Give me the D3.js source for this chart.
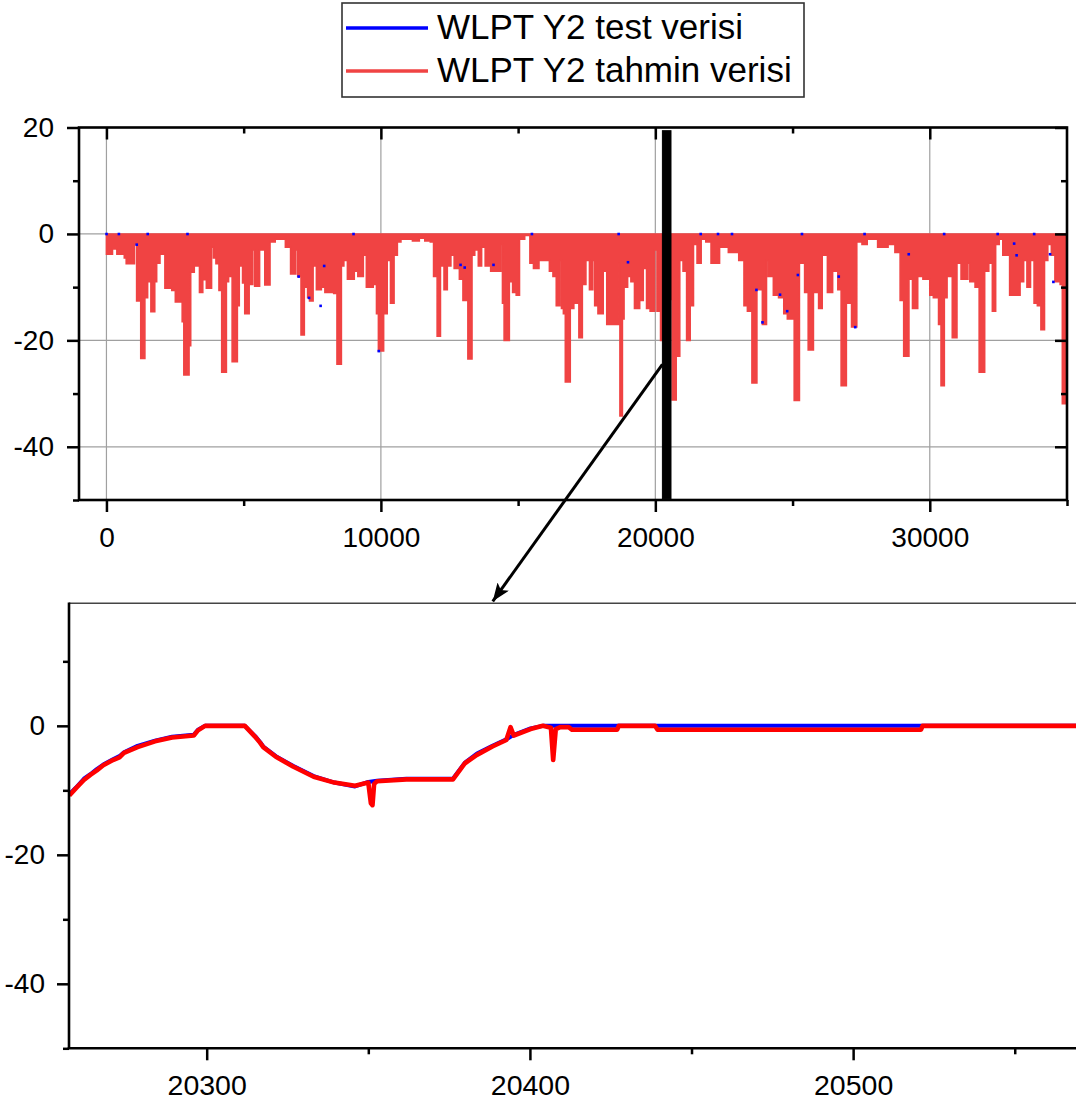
<!DOCTYPE html>
<html>
<head>
<meta charset="utf-8">
<script src="https://cdn.jsdelivr.net/npm/d3@7"></script>
<style>
  body { margin: 0; background: #fff; }
  svg { display: block; font-family: "Liberation Sans", Arial, sans-serif; }
</style>
</head>
<body>
<svg id="chart" width="1076" height="1102"></svg>
<script>
// ---- Series names ----
const seriesNames = ["WLPT Y2 test verisi", "WLPT Y2 tahmin verisi"];

// ---- Overview: lowest value reached by the prediction series in each index span ----
// (span starts at overviewStart[i] and runs to the next start)
const overviewStart = [
  0, 220, 380, 650, 720, 1020, 1100, 1250, 1400, 1500, 1620, 1760, 1830, 1950, 2130, 2380, 2510, 2760, 2820, 3010,
  3070, 3200, 3390, 3510, 3640, 3830, 3900, 3990, 4100, 4200, 4370, 4450, 4580, 4770, 4840, 4960, 5040, 5200, 5330, 5400,
  5580, 5770, 5960, 6150, 6520, 6710, 6900, 6970, 7090, 7210, 7330, 7400, 7530, 7650, 7830, 7960, 8280, 8400, 8560, 8650,
  8780, 9030, 9160, 9360, 9470, 9720, 9840, 9910, 10100, 10230, 10350, 10480, 10600, 10730, 11150, 11400, 11600, 11800, 11920, 12050,
  12170, 12300, 12420, 12550, 12670, 12860, 12990, 13170, 13320, 13420, 13550, 13670, 13800, 14000, 14370, 14430, 14490, 14680, 14800, 14930,
  15050, 15240, 15430, 15560, 15760, 16140, 16270, 16390, 16520, 16580, 16650, 16720, 16900, 17030, 17215, 17340, 17470, 17600, 17720, 17790,
  17910, 18100, 18230, 18670, 18710, 18800, 18860, 18990, 19110, 19240, 19430, 19560, 19680, 19810, 19975, 20060, 20190, 20290, 20570, 20610,
  20760, 20890, 21010, 21140, 21270, 21390, 21520, 21670, 21840, 22030, 22340, 22660, 23040, 23230, 23355, 23520, 23700, 23900, 24050, 24110,
  24300, 24490, 24680, 24810, 25060, 25250, 25440, 25570, 25760, 25950, 26080, 26270, 26460, 26650, 26770, 26960, 27150, 27340, 27530, 27720,
  28100, 28480, 28730, 28920, 29050, 29240, 29370, 29560, 29750, 30000, 30130, 30320, 30410, 30530, 30630, 30820, 30990, 31140, 31390, 31460,
  31650, 31800, 32000, 32150, 32280, 32400, 32530, 32660, 32910, 33290, 33420, 33540, 33670, 33800, 33920, 34050, 34180, 34300, 34430, 34560,
  34750, 34830
];
const overviewMin = [
  -3.8, -2.8, -3.8, -4.5, -5.6, -2.0, -12.6, -23.4, -12.0, -9.0, -14.6, -9.0, -5.5, -3.8, -10.2, -10.6, -12.8, -16.5, -26.5, -21.0,
  -7.2, -6.0, -11.0, -8.6, -10.2, -2.5, -4.5, -5.6, -10.6, -26.0, -9.0, -8.0, -24.0, -13.5, -6.0, -9.2, -15.0, -9.5, -3.0, -9.8,
  -3.0, -9.6, -1.5, -1.0, -2.5, -7.5, -3.0, -8.0, -19.0, -10.0, -12.0, -12.6, -6.0, -10.5, -10.0, -11.0, -11.2, -24.5, -6.0, -5.0,
  -8.5, -7.0, -8.0, -4.0, -10.0, -9.5, -15.0, -22.0, -15.0, -5.0, -13.0, -4.0, -1.5, -1.0, -1.3, -0.8, -1.3, -1.5, -8.0, -19.2,
  -6.0, -10.5, -6.0, -4.0, -6.5, -8.5, -12.5, -23.5, -4.0, -3.0, -6.0, -2.5, -6.0, -7.0, -2.0, -13.0, -20.0, -9.0, -11.0, -11.5,
  -1.0, -0.3, -5.5, -6.5, -5.0, -7.0, -8.0, -13.5, -5.0, -14.0, -15.0, -27.8, -14.0, -13.0, -19.5, -9.5, -5.0, -10.5, -5.0, -13.5,
  -15.0, -7.0, -17.0, -5.5, -34.2, -16.0, -10.0, -8.0, -9.0, -14.0, -12.5, -6.5, -14.0, -14.5, -3.0, -14.5, -20.0, -12.3, -5.0, -31.2,
  -23.0, -5.0, -7.0, -20.0, -13.5, -2.0, -5.5, -1.0, -1.5, -5.5, -2.5, -3.5, -5.0, -13.5, -14.5, -28.0, -10.5, -17.0, -5.0, -8.0,
  -11.5, -12.0, -15.0, -16.0, -31.3, -5.5, -11.0, -21.8, -11.0, -14.0, -4.0, -11.0, -7.0, -10.5, -28.5, -13.0, -17.5, -1.5, -2.0, -1.0,
  -2.5, -2.0, -3.5, -12.5, -23.0, -8.5, -14.0, -8.0, -8.5, -11.5, -12.0, -17.0, -28.5, -12.0, -8.0, -19.5, -5.5, -8.5, -5.5, -9.0,
  -10.0, -26.0, -7.0, -5.5, -14.5, -2.0, -1.0, -4.0, -11.5, -9.0, -5.0, -10.0, -5.0, -13.0, -13.5, -18.0, -5.0, -2.0, -4.0, -9.0,
  -9.5, -31.9
];
const overviewEnd = 35000;

// Places where the test series shows past the prediction in the overview
const testOnlyX = [0, 450, 1500, 1100, 2950, 7800, 7930, 9000, 7000, 7380, 9920, 12900, 13050, 14100, 15500,
                   18660, 19000, 21650, 22280, 22790, 23680, 23900, 24540, 24800, 25190, 25340, 26680, 27280, 27620, 29230, 30520, 32470, 33070, 33160, 33800, 34380, 34500];
const testOnlyY = [0, 0, 0, -2.0, 0, -13.5, -6.0, 0, -8.0, -12.0, -22.0, -5.8, -6.3, -5.8, 0,
                   0, -5.3, 0, 0, 0, -10.5, -16.6, -11.4, -14.5, -7.7, 0, -8.0, -17.5, 0, -3.8, 0, 0, -1.8, -4.0, 0, -3.8, -9.0];

// ---- Detail window: index range shown in the lower panel ----
const detailRange = [20257.4, 20570.5];

// Prediction series in the detail window (index, value)
const predX = [20257.5, 20259.5, 20262, 20264, 20266, 20268, 20271, 20273, 20274.4, 20278.6, 20284, 20289.3, 20296, 20297.3, 20299.5,
  20311.8, 20315, 20316.5, 20317.5, 20321.4, 20326.7, 20333.1, 20339.5, 20345.9, 20350, 20350.8, 20351.3, 20351.8, 20352.7, 20361.8,
  20376.2, 20379.9, 20383.6, 20388.4, 20392.7, 20394, 20395, 20400.2, 20404, 20406.5, 20407.2, 20408, 20409.4, 20412, 20413,
  20427, 20427.5, 20438.7, 20439.5, 20521, 20521.5, 20570.5];
const predY = [-10.8, -9.7, -8.4, -7.6, -6.9, -6.1, -5.3, -4.9, -4.2, -3.3, -2.4, -1.8, -1.5, -0.7, 0,
  0, -1.7, -2.6, -3.3, -4.8, -6.3, -7.9, -8.8, -9.3, -8.8, -12.0, -12.3, -9.0, -8.6, -8.3,
  -8.3, -5.8, -4.5, -3.2, -2.2, -0.2, -1.5, -0.5, 0, -0.3, -5.3, -0.5, -0.2, -0.2, -0.6,
  -0.6, 0, 0, -0.6, -0.6, 0, 0];

// Test series in the detail window (index, value)
const testX = [20257.5, 20259.5, 20262, 20264, 20266, 20268, 20271, 20273, 20274.4, 20278.6, 20284, 20289.3, 20296, 20297.3, 20299.5,
  20311.8, 20315, 20316.5, 20317.5, 20321.4, 20326.7, 20333.1, 20339.5, 20345.9, 20350, 20352.7, 20361.8,
  20376.2, 20379.9, 20383.6, 20388.4, 20392.7, 20395, 20400.2, 20404, 20570.5];
const testY = [-10.6, -9.6, -8.2, -7.5, -6.7, -6.0, -5.2, -4.7, -4.1, -3.1, -2.3, -1.7, -1.4, -0.6, 0,
  0, -1.6, -2.5, -3.2, -4.7, -6.2, -7.8, -8.8, -9.4, -8.7, -8.5, -8.2,
  -8.2, -5.7, -4.3, -3.1, -2.1, -1.4, -0.4, 0, 0];

// ---- Axis ticks ----
const overviewXMajor = [0, 10000, 20000, 30000];
const overviewXMinor = [5000, 15000, 25000, 35000];
const overviewYMajor = [20, 0, -20, -40];
const overviewYMinor = [10, -10, -30, -50];
const detailXMajor = [20300, 20400, 20500];
const detailXMinor = [20350, 20450, 20550];
const detailYMajor = [0, -20, -40];
const detailYMinor = [10, -10, -30, -50];

// ---- Colours ----
const testColor = "#0000ff";
const predOverviewColor = "#f04343";
const predDetailColor = "#ff0000";

const svg = d3.select("#chart");
const FONT = 28;
const plainNum = d => String(d);   // ASCII hyphen for negatives

// ---- Overview panel ----
const ov = { left: 79, right: 1067, top: 127.5, bottom: 500 };
const xs = d3.scaleLinear().domain([-1000, 35000]).range([ov.left, ov.right]);
const ys = d3.scaleLinear().domain([-50, 20]).range([ov.bottom, ov.top]);

svg.append("clipPath").attr("id", "clipOv")
  .append("rect").attr("x", ov.left).attr("y", ov.top)
  .attr("width", ov.right - ov.left).attr("height", ov.bottom - ov.top);

const gOv = svg.append("g");

// grid
gOv.append("g").selectAll("line").data(overviewXMajor).join("line")
  .attr("x1", d => xs(d)).attr("x2", d => xs(d))
  .attr("y1", ov.top).attr("y2", ov.bottom)
  .attr("stroke", "#a0a0a0").attr("stroke-width", 1.2);
gOv.append("g").selectAll("line").data(overviewYMajor).join("line")
  .attr("x1", ov.left).attr("x2", ov.right)
  .attr("y1", d => ys(d)).attr("y2", d => ys(d))
  .attr("stroke", "#a0a0a0").attr("stroke-width", 1.2);

// prediction envelope
const envPts = overviewStart.map((s, i) => ({ x: s, lo: overviewMin[i] }));
envPts.push({ x: overviewEnd, lo: overviewMin[overviewMin.length - 1] });
const envArea = d3.area()
  .x(d => xs(d.x))
  .y0(ys(0))
  .y1(d => ys(d.lo))
  .curve(d3.curveStepAfter);

const gData = gOv.append("g").attr("clip-path", "url(#clipOv)");
gData.append("path").datum(envPts)
  .attr("d", envArea)
  .attr("fill", predOverviewColor)
  .attr("stroke", predOverviewColor)
  .attr("stroke-width", 1.6)
  .attr("stroke-linejoin", "miter");

// test series peeking out
gData.append("g").selectAll("rect").data(testOnlyX.map((x, i) => ({ x, y: testOnlyY[i] }))).join("rect")
  .attr("x", d => xs(d.x) - 1.2).attr("y", d => ys(d.y) - 1.2)
  .attr("width", 2.6).attr("height", 2.6)
  .attr("fill", testColor);

// selection bar marking the detail window
gOv.append("rect")
  .attr("x", xs(detailRange[0])).attr("width", xs(detailRange[1]) - xs(detailRange[0]))
  .attr("y", ys(19.4)).attr("height", ys(-49.8) - ys(19.4))
  .attr("fill", "#000").attr("stroke", "#000").attr("stroke-width", 1);

// axes
function styleAxis(g, size) {
  g.select(".domain").remove();
  g.selectAll(".tick line").attr("stroke", "#000").attr("stroke-width", 2.5);
  g.selectAll(".tick text").attr("fill", "#000").attr("font-size", size || FONT)
    .attr("font-family", '"Liberation Sans", Arial, sans-serif');
}

gOv.append("g").attr("transform", `translate(0,${ov.bottom})`)
  .call(d3.axisBottom(xs).tickValues(overviewXMajor).tickSize(12).tickPadding(15).tickFormat(plainNum))
  .call(styleAxis);
gOv.append("g").attr("transform", `translate(0,${ov.bottom})`)
  .call(d3.axisBottom(xs).tickValues(overviewXMinor).tickSize(6).tickFormat(""))
  .call(styleAxis);
gOv.append("g").attr("transform", `translate(0,${ov.top})`)
  .call(d3.axisTop(xs).tickValues(overviewXMajor).tickSize(-12).tickFormat(""))
  .call(styleAxis);
gOv.append("g").attr("transform", `translate(0,${ov.top})`)
  .call(d3.axisTop(xs).tickValues(overviewXMinor.filter(v => v < 35000)).tickSize(-6).tickFormat(""))
  .call(styleAxis);
gOv.append("g").attr("transform", `translate(${ov.left},0)`)
  .call(d3.axisLeft(ys).tickValues(overviewYMajor).tickSize(12).tickPadding(13).tickFormat(plainNum))
  .call(styleAxis);
gOv.append("g").attr("transform", `translate(${ov.left},0)`)
  .call(d3.axisLeft(ys).tickValues(overviewYMinor).tickSize(6).tickFormat(""))
  .call(styleAxis);
gOv.append("g").attr("transform", `translate(${ov.right},0)`)
  .call(d3.axisRight(ys).tickValues(overviewYMajor).tickSize(-12).tickFormat(""))
  .call(styleAxis);
gOv.append("g").attr("transform", `translate(${ov.right},0)`)
  .call(d3.axisRight(ys).tickValues(overviewYMinor.filter(v => v > -50)).tickSize(-6).tickFormat(""))
  .call(styleAxis);

// frame
gOv.append("rect")
  .attr("x", ov.left).attr("y", ov.top)
  .attr("width", ov.right - ov.left).attr("height", ov.bottom - ov.top)
  .attr("fill", "none").attr("stroke", "#000").attr("stroke-width", 2.6);

// ---- Detail panel ----
const dt = { left: 69, right: 1081, top: 603.3, bottom: 1048.3 };
const xd = d3.scaleLinear().domain(detailRange).range([dt.left, dt.right]);
const yd = d3.scaleLinear().domain([-50, 19]).range([dt.bottom, dt.top]);

svg.append("clipPath").attr("id", "clipDt")
  .append("rect").attr("x", dt.left).attr("y", dt.top)
  .attr("width", dt.right - dt.left).attr("height", dt.bottom - dt.top);

const gDt = svg.append("g");
const lineDt = d3.line().x(d => xd(d[0])).y(d => yd(d[1]));
const gDtData = gDt.append("g").attr("clip-path", "url(#clipDt)");

gDtData.append("path").datum(testX.map((x, i) => [x, testY[i]]))
  .attr("d", lineDt).attr("fill", "none")
  .attr("stroke", testColor).attr("stroke-width", 4)
  .attr("stroke-linejoin", "round");
gDtData.append("path").datum(predX.map((x, i) => [x, predY[i]]))
  .attr("d", lineDt).attr("fill", "none")
  .attr("stroke", predDetailColor).attr("stroke-width", 4.6)
  .attr("stroke-linejoin", "round");

gDt.append("g").attr("transform", `translate(0,${dt.bottom})`)
  .call(d3.axisBottom(xd).tickValues(detailXMajor).tickSize(12).tickPadding(14).tickFormat(plainNum))
  .call(g => styleAxis(g, 28.5));
gDt.append("g").attr("transform", `translate(0,${dt.bottom})`)
  .call(d3.axisBottom(xd).tickValues(detailXMinor).tickSize(6).tickFormat(""))
  .call(styleAxis);
gDt.append("g").attr("transform", `translate(${dt.left},0)`)
  .call(d3.axisLeft(yd).tickValues(detailYMajor).tickSize(12).tickPadding(12).tickFormat(plainNum))
  .call(styleAxis);
gDt.append("g").attr("transform", `translate(${dt.left},0)`)
  .call(d3.axisLeft(yd).tickValues(detailYMinor).tickSize(6).tickFormat(""))
  .call(styleAxis);

// frame: heavy left/bottom, thin top
gDt.append("line").attr("x1", dt.left).attr("x2", dt.right).attr("y1", dt.top).attr("y2", dt.top)
  .attr("stroke", "#444").attr("stroke-width", 1.6);
gDt.append("line").attr("x1", dt.left).attr("x2", dt.left).attr("y1", dt.top - 0.8).attr("y2", dt.bottom)
  .attr("stroke", "#000").attr("stroke-width", 2.6);
gDt.append("line").attr("x1", dt.left - 1.3).attr("x2", dt.right).attr("y1", dt.bottom).attr("y2", dt.bottom)
  .attr("stroke", "#000").attr("stroke-width", 2.6);

// ---- Arrow from the selection bar to the detail panel ----
const defs = svg.append("defs");
defs.append("marker").attr("id", "arrowHead")
  .attr("markerUnits", "userSpaceOnUse")
  .attr("markerWidth", 20).attr("markerHeight", 16)
  .attr("refX", 18).attr("refY", 7).attr("orient", "auto")
  .append("path").attr("d", "M0,0 L18,7 L0,14 L4,7 Z").attr("fill", "#000");

svg.append("line")
  .attr("x1", xs(detailRange[0])).attr("y1", ys(-24.5))
  .attr("x2", xd(20388.5)).attr("y2", dt.top - 2)
  .attr("stroke", "#000").attr("stroke-width", 3)
  .attr("marker-end", "url(#arrowHead)");

// ---- Legend ----
const lg = svg.append("g");
lg.append("rect").attr("x", 342).attr("y", 3).attr("width", 462).attr("height", 94)
  .attr("fill", "#fff").attr("stroke", "#333").attr("stroke-width", 1.6);
const legendColors = [testColor, predOverviewColor];
const legendY = [28, 71];
seriesNames.forEach((name, i) => {
  lg.append("line").attr("x1", 346).attr("x2", 428)
    .attr("y1", legendY[i]).attr("y2", legendY[i])
    .attr("stroke", legendColors[i]).attr("stroke-width", 3.5);
  lg.append("text").attr("x", 437).attr("y", legendY[i] + 11)
    .attr("font-size", 35).attr("fill", "#000").text(name);
});
</script>
</body>
</html>
